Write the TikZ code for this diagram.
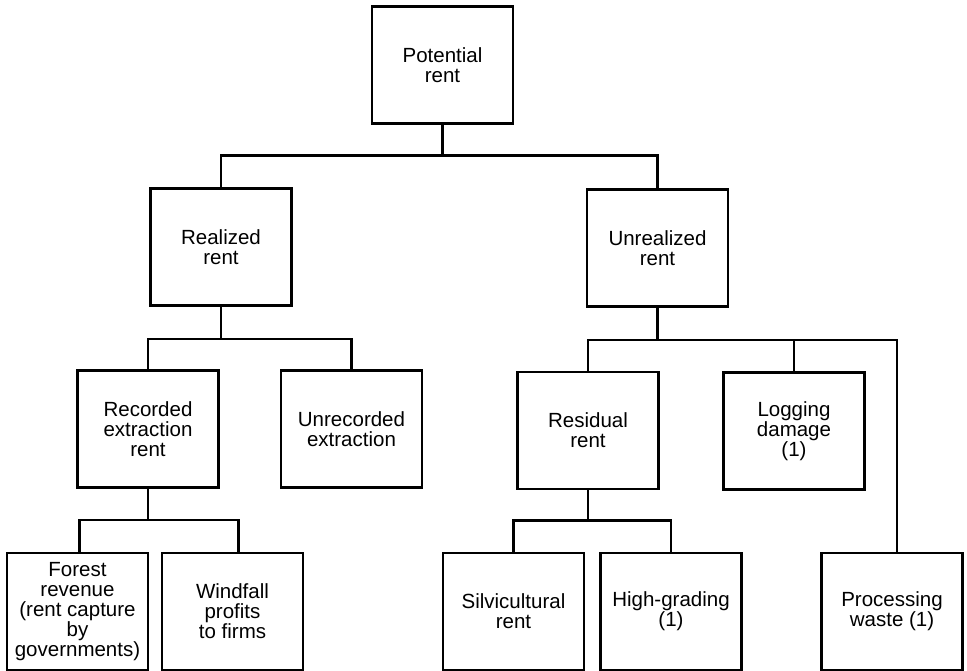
\documentclass[tikz,border=0pt]{standalone}
\usepackage{fontspec}
\setmainfont{Liberation Sans}
\begin{document}
\begin{tikzpicture}[x=1pt,y=-1pt,
  box/.style={draw, line width=2.6pt, minimum width=141pt, minimum height=117pt,
    inner sep=0pt, align=center, font=\fontsize{20.5}{20}\selectfont},
  conn/.style={line width=2.6pt, line cap=rect}]
\useasboundingbox (0,0) rectangle (967,671);
\node[box] (pot) at (442.5,65) {Potential\\rent};
\node[box] (real) at (221,247) {Realized\\rent};
\node[box] (unreal) at (657.5,248) {Unrealized\\rent};
\node[box] (rec) at (148,429) {Recorded\\extraction\\rent};
\node[box] (unrec) at (351.5,429) {Unrecorded\\extraction};
\node[box] (resid) at (588,430.5) {Residual\\rent};
\node[box] (log) at (794,431) {Logging\\damage\\(1)};
\node[box] (forest) at (77.5,611.5) {Forest\\revenue\\(rent capture\\by\\governments)};
\node[box] (wind) at (232.5,611.5) {Windfall\\profits\\to firms};
\node[box] (silv) at (513.5,611.5) {Silvicultural\\rent};
\node[box] (high) at (671,611.5) {High-grading\\(1)};
\node[box] (proc) at (892,611.5) {Processing\\waste (1)};
% connectors
\path (pot.south) ++(0,31) coordinate (j0);
\path (real.south) ++(0,32) coordinate (j1);
\path (unreal.south) ++(0,32) coordinate (j2);
\path (rec.south) ++(0,31) coordinate (j3);
\path (resid.south) ++(0,30) coordinate (j4);
\draw[conn] (pot.south) -- (j0);
\draw[conn] (real.north) |- (j0) -| (unreal.north);
\draw[conn] (real.south) -- (j1);
\draw[conn] (rec.north) |- (j1) -| (unrec.north);
\draw[conn] (unreal.south) -- (j2);
\draw[conn] (resid.north) |- (j2) -| ([xshift=5pt]proc.north);
\draw[conn] (j2 -| log.north) -- (log.north);
\draw[conn] (rec.south) -- (j3);
\draw[conn] ([xshift=2pt]forest.north) |- (j3) -| ([xshift=6pt]wind.north);
\draw[conn] (resid.south) -- (j4);
\draw[conn] (silv.north) |- (j4) -| (high.north);
\end{tikzpicture}
\end{document}
